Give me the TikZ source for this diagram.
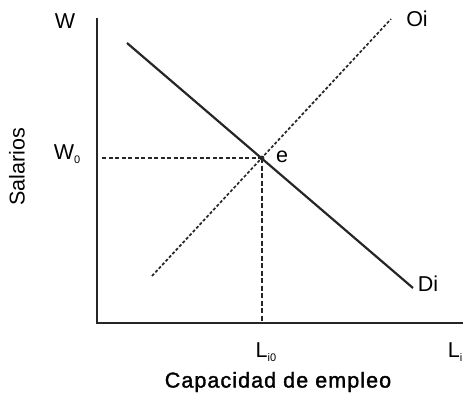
\documentclass[tikz,border=0pt]{standalone}
\usepackage{fontspec}
\setmainfont{Liberation Sans}
\newfontfamily\titlefont[LetterSpace=5,FakeBold=1.5]{Liberation Sans}
\usepackage{tikz}
\usetikzlibrary{arrows}

\newcommand{\lowidx}[1]{\raisebox{-4pt}{\fontsize{11}{11}\selectfont #1}}

\begin{document}
\begin{tikzpicture}[x=1pt,y=-1pt]
\useasboundingbox (0,0) rectangle (464,394);
\begin{scope}[line width=2.2pt,font=\fontsize{21.5}{24}\selectfont]
    % axes
    \coordinate (orig) at (97,323);
    \coordinate (ytop) at (97,18);
    \coordinate (xend) at (463,323);
    \draw[black!85] (ytop) -- (orig) -- (xend);

    % demand and supply
    \coordinate (dtop) at (127,43);
    \coordinate (dbot) at (413,288);
    \draw[black!85] (dtop) -- (dbot);

    \coordinate (sbot) at (152,276);
    \coordinate (stop) at (391,19);
    \draw[black!85,line width=1.7pt,dash pattern=on 3pt off 2pt] (sbot) -- (stop);

    % equilibrium
    \coordinate (eq) at (262,158);
    \coordinate (wz) at (102,158);
    \coordinate (lz) at (262,323);
    \draw[black!85,line width=1.6pt,dash pattern=on 4pt off 2.5pt] (wz) -- (eq);
    \draw[black!85,line width=2.6pt,dash pattern=on 5pt off 2.5pt] (eq) -- (lz);
    \fill[black!85] (eq) circle(2.4);

    % labels
    \draw (65,21) node(wlab){W};
    \draw (67,154) node(wzlab){W\lowidx{0}};
    \draw (282,157) node(elab){e};
    \draw (417,19) node(oilab){Oi};
    \draw (428,284) node(dilab){Di};
    \draw (266,352) node(lzlab){L\lowidx{i0}};
    \draw (455,352) node(llab){L\lowidx{i}};
    \draw (17,167) node[rotate=90](ylab){Salarios};
    \draw (278,382) node(xlab){\titlefont Capacidad de empleo};
\end{scope}
\end{tikzpicture}
\end{document}
